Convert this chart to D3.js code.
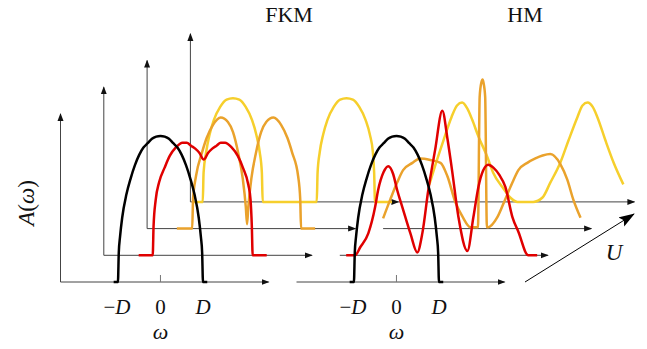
<!DOCTYPE html>
<html>
<head>
<meta charset="utf-8">
<script src="https://cdn.jsdelivr.net/npm/d3@7"></script>
<style>
  body { margin: 0; background: #fff; }
  text { font-family: "Liberation Serif", "Times New Roman", serif; fill: #111; }
</style>
</head>
<body>
<div id="view"></div>
<script>
// spectral functions A(w), w in units of D,
// A relative to the peak of the U=0 semicircle
const bareDos = [[-1.1, 0], [-1.0, 0], [-0.98, 0.2], [-0.95, 0.31], [-0.9, 0.44], [-0.8, 0.6], [-0.7, 0.71],
  [-0.6, 0.8], [-0.5, 0.87], [-0.4, 0.92], [-0.3, 0.95], [-0.2, 0.98], [-0.1, 0.995], [0, 1], [0.1, 0.995],
  [0.2, 0.98], [0.3, 0.95], [0.4, 0.92], [0.5, 0.87], [0.6, 0.8], [0.7, 0.71], [0.8, 0.6], [0.9, 0.44],
  [0.95, 0.31], [0.98, 0.2], [1.0, 0], [1.1, 0]];

const fkmU1 = [[-1.53, 0], [-1.2, 0], [-1.18, 0.2], [-1.13, 0.38], [-1.05, 0.5], [-0.92, 0.6], [-0.8, 0.68],
  [-0.65, 0.74], [-0.5, 0.77], [-0.4, 0.77], [-0.3, 0.75], [-0.2, 0.73], [-0.1, 0.7], [0, 0.655], [0.1, 0.7],
  [0.2, 0.73], [0.3, 0.75], [0.4, 0.77], [0.5, 0.77], [0.65, 0.74], [0.8, 0.68], [0.92, 0.6], [1.05, 0.48],
  [1.1, 0.38], [1.13, 0.2], [1.15, 0], [1.48, 0]];

const fkmU2 = [[-1.65, 0], [-1.29, 0], [-1.27, 0.2], [-1.2, 0.36], [-1.06, 0.52], [-0.95, 0.62], [-0.8, 0.71],
  [-0.62, 0.76], [-0.45, 0.73], [-0.33, 0.66], [-0.21, 0.52], [-0.1, 0.34], [-0.03, 0.15], [0, 0.03],
  [0.03, 0.15], [0.1, 0.34], [0.21, 0.52], [0.33, 0.66], [0.45, 0.73], [0.62, 0.76], [0.8, 0.71],
  [0.95, 0.62], [1.06, 0.52], [1.2, 0.36], [1.25, 0.2], [1.27, 0], [1.6, 0]];

const fkmU3 = [[-2.27, 0], [-2.06, 0], [-2.04, 0.2], [-1.98, 0.34], [-1.9, 0.46], [-1.8, 0.56], [-1.65, 0.65],
  [-1.5, 0.7], [-1.35, 0.71], [-1.2, 0.7], [-1.05, 0.65], [-0.9, 0.56], [-0.8, 0.46], [-0.72, 0.34],
  [-0.67, 0.2], [-0.65, 0], [0.62, 0], [0.64, 0.2], [0.69, 0.34], [0.77, 0.46], [0.87, 0.56], [1.02, 0.65],
  [1.17, 0.7], [1.32, 0.71], [1.47, 0.7], [1.62, 0.65], [1.77, 0.56], [1.87, 0.46], [1.94, 0.34],
  [1.97, 0.2], [1.99, 0], [2.39, 0]];

const hmU1 = [[-2.2, 0], [-1.99, 0], [-1.87, 0.055], [-1.68, 0.15], [-1.52, 0.33], [-1.45, 0.445], [-1.32, 0.57],
  [-1.21, 0.61], [-1.1, 0.56], [-1.0, 0.445], [-0.88, 0.33], [-0.69, 0.15], [-0.53, 0.02], [-0.41, 0.15],
  [-0.27, 0.445], [-0.11, 0.72], [0.06, 0.99], [0.18, 0.8], [0.29, 0.58], [0.44, 0.26], [0.65, 0.03],
  [0.79, 0.26], [0.91, 0.47], [1.02, 0.58], [1.14, 0.62], [1.26, 0.6], [1.4, 0.55], [1.54, 0.47],
  [1.71, 0.26], [1.85, 0.16], [2.08, 0], [2.29, 0]];

const hmU2 = [[-2.35, 0.07], [-2.18, 0.2], [-2.02, 0.315], [-1.88, 0.4], [-1.66, 0.45], [-1.48, 0.48],
  [-1.24, 0.47], [-1.0, 0.45], [-0.84, 0.36], [-0.65, 0.18], [-0.48, 0.08], [-0.3, 0.01], [-0.12, 0.01],
  [-0.08, 0.9], [-0.04, 1.0], [-0.01, 1.02], [0.01, 1.0], [0.05, 0.9], [0.09, 0.01], [0.12, 0.01],
  [0.34, 0.08], [0.52, 0.2], [0.69, 0.315], [0.83, 0.4], [1.04, 0.45], [1.23, 0.48], [1.4, 0.5],
  [1.58, 0.51], [1.82, 0.44], [1.98, 0.335], [2.12, 0.2], [2.29, 0.075]];

const hmU3 = [[-2.28, 0.12], [-2.12, 0.27], [-1.95, 0.42], [-1.76, 0.58], [-1.63, 0.66], [-1.51, 0.68],
  [-1.39, 0.64], [-1.27, 0.56], [-1.13, 0.45], [-0.92, 0.31], [-0.78, 0.2], [-0.56, 0.1], [-0.38, 0.03],
  [-0.21, 0], [0.16, 0], [0.38, 0.03], [0.56, 0.13], [0.8, 0.27], [0.99, 0.42], [1.2, 0.58], [1.32, 0.66],
  [1.44, 0.68], [1.56, 0.65], [1.67, 0.58], [1.86, 0.42], [2.05, 0.27], [2.28, 0.12]];

const panelTitles = ['FKM', 'HM'];
const panelSeries = [[bareDos, fkmU1, fkmU2, fkmU3], [bareDos, hmU1, hmU2, hmU3]];
const tickValues = [-1, 0, 1];
const tickLabels = [['\u2212', 'D'], ['', '0'], ['', 'D']];
const layerColors = ['#000000', '#e00000', '#eaa22c', '#f6cf2c'];

const w = 647;
const h = 349;
const width = 208;
const height = 168;
const step = {x: 43.3, y: -26.7};
const panels = [
  {x: 60.5, y: 282, yAxis: true, axisStart: [0, 0, 0, 0]},
  {x: 296.5, y: 282, yAxis: false, axisStart: [0, 0, 0, -28]}
];

const svg = d3.select('#view').append('svg')
  .attr('width', w)
  .attr('height', h);

const defs = svg.append('defs');
defs.append('marker')
  .attr('id', 'tip')
  .attr('viewBox', '0 -4 8 8')
  .attr('refX', 7).attr('refY', 0)
  .attr('markerWidth', 8).attr('markerHeight', 8)
  .attr('markerUnits', 'userSpaceOnUse')
  .attr('orient', 'auto')
  .append('path').attr('d', 'M0,-3L8,0L0,3Z').attr('fill', '#111');
defs.append('marker')
  .attr('id', 'bigtip')
  .attr('viewBox', '0 -6 16 12')
  .attr('refX', 15).attr('refY', 0)
  .attr('markerWidth', 16).attr('markerHeight', 12)
  .attr('markerUnits', 'userSpaceOnUse')
  .attr('orient', 'auto')
  .append('path').attr('d', 'M0,-5.5L16,0L0,5.5L3,0Z').attr('fill', '#000');

const x = d3.scaleLinear()
  .domain([-2.35, 2.54])
  .range([0, width]);

const y = d3.scaleLinear()
  .domain([0, 1.15])
  .range([0, -height]);

const line = d3.line()
  .x(d => x(d[0]))
  .y(d => y(d[1]))
  .curve(d3.curveMonotoneX);

// back layers first so the front ones cover them
for (let layer = 3; layer >= 0; layer--) {
  panels.forEach((p, pi) => {
    const g = svg.append('g')
      .attr('transform', `translate(${p.x + layer * step.x}, ${p.y + layer * step.y})`);

    g.append('line')
      .attr('x1', p.axisStart[layer]).attr('y1', 0)
      .attr('x2', width).attr('y2', 0)
      .attr('stroke', '#444').attr('stroke-width', 1)
      .attr('marker-end', 'url(#tip)');

    if (p.yAxis) {
      g.append('line')
        .attr('x1', 0).attr('y1', 0)
        .attr('x2', 0).attr('y2', -height)
        .attr('stroke', '#444').attr('stroke-width', 1)
        .attr('marker-end', 'url(#tip)');
    }

    g.append('path')
      .datum(panelSeries[pi][layer])
      .attr('fill', 'none')
      .attr('stroke', layerColors[layer])
      .attr('stroke-width', 2.5)
      .attr('stroke-linejoin', 'round')
      .attr('d', line);

    if (layer === 0) {
      g.append('line')
        .attr('x1', x(0)).attr('x2', x(0))
        .attr('y1', 0).attr('y2', -7)
        .attr('stroke', '#777').attr('stroke-width', 1);

      const lab = g.selectAll('.tick-label')
        .data(tickValues)
        .enter().append('text')
          .attr('class', 'tick-label')
          .attr('x', d => x(d) - (d < 0 ? 1 : 0))
          .attr('y', 32)
          .attr('text-anchor', 'middle')
          .style('font-size', '21px');
      lab.append('tspan').text((d, i) => tickLabels[i][0]);
      lab.append('tspan')
        .style('font-style', (d, i) => tickLabels[i][1] === 'D' ? 'italic' : 'normal')
        .text((d, i) => tickLabels[i][1]);

      g.append('text')
        .attr('x', x(0))
        .attr('y', 57)
        .attr('text-anchor', 'middle')
        .style('font-size', '22px')
        .style('font-style', 'italic')
        .text('\u03c9');
    }
  });
}

svg.selectAll('.title')
  .data(panelTitles)
  .enter().append('text')
    .attr('class', 'title')
    .attr('x', (d, i) => [289, 525][i])
    .attr('y', 22)
    .attr('text-anchor', 'middle')
    .style('font-size', '22px')
    .text(d => d);

const ylab = svg.append('text')
  .attr('transform', 'translate(34, 203) rotate(-90)')
  .attr('text-anchor', 'middle')
  .style('font-size', '23px');
ylab.append('tspan').style('font-style', 'italic').text('A');
ylab.append('tspan').text('(');
ylab.append('tspan').style('font-style', 'italic').text('\u03c9');
ylab.append('tspan').text(')');

// direction of increasing U
svg.append('line')
  .attr('x1', 525).attr('y1', 282)
  .attr('x2', 634).attr('y2', 214)
  .attr('stroke', '#000').attr('stroke-width', 1)
  .attr('marker-end', 'url(#bigtip)');

svg.append('text')
  .attr('x', 614)
  .attr('y', 260)
  .attr('text-anchor', 'middle')
  .style('font-size', '23px')
  .style('font-style', 'italic')
  .text('U');
</script>
</body>
</html>
